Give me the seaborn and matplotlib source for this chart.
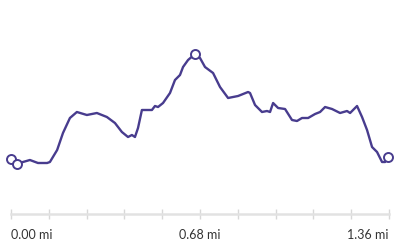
import matplotlib
matplotlib.use("Agg")
import matplotlib.pyplot as plt
import seaborn as sns
import pandas as pd

# distance (miles) and elevation (ft, approximate; y-axis unlabeled)
distance = [0.000, 0.022, 0.043, 0.068, 0.097, 0.130, 0.140, 0.166, 0.187, 0.212,
            0.237, 0.273, 0.309, 0.345, 0.374, 0.399, 0.421, 0.435, 0.446, 0.457,
            0.471, 0.507, 0.518, 0.529, 0.547, 0.572, 0.590, 0.608, 0.619, 0.637,
            0.662, 0.680, 0.698, 0.727, 0.752, 0.781, 0.817, 0.853, 0.860, 0.878,
            0.903, 0.921, 0.932, 0.943, 0.961, 0.986, 1.011, 1.029, 1.047, 1.069,
            1.094, 1.112, 1.130, 1.155, 1.184, 1.209, 1.220, 1.245, 1.263, 1.281,
            1.299, 1.317, 1.335, 1.346, 1.356]
elevation = [627.3, 625.0, 626.0, 627.0, 625.5, 625.5, 626.0, 632.0, 640.5, 648.0,
             651.0, 649.5, 650.5, 648.5, 645.5, 641.0, 638.5, 639.5, 638.5, 643.0,
             652.0, 652.0, 654.0, 653.5, 655.5, 660.5, 667.0, 669.5, 673.5, 677.0,
             680.0, 678.0, 673.5, 670.5, 663.5, 658.0, 659.0, 661.0, 660.5, 654.5,
             651.0, 651.5, 651.0, 655.5, 653.0, 652.5, 647.0, 646.5, 648.0, 648.0,
             650.0, 651.0, 653.5, 652.5, 650.5, 651.5, 650.5, 654.0, 648.5, 642.0,
             633.5, 631.0, 626.0, 626.0, 628.5]
marker_idx = [0, 1, 30, 64]
tick_positions = [0.0, 0.136, 0.272, 0.408, 0.544, 0.68, 0.816, 0.952, 1.088, 1.224, 1.36]
tick_labels = ["0.00 mi", "", "", "", "", "0.68 mi", "", "", "", "", "1.36 mi"]

sns.set_style("white")
plt.rcParams['font.family'] = ['Lato', 'DejaVu Sans']

df = pd.DataFrame({"distance": distance, "elevation": elevation})
mk = df.iloc[marker_idx]

fig = plt.figure(figsize=(4, 2.5), dpi=100)
ax = fig.add_axes([11/400, 36/250, 378/400, 194/250])
color = "#483c8e"
sns.lineplot(data=df, x="distance", y="elevation", ax=ax, color=color,
             linewidth=1.7, solid_joinstyle="round", solid_capstyle="round", zorder=2)
ax.scatter(mk["distance"], mk["elevation"], s=42, facecolor="white",
           edgecolor=color, linewidth=1.4, zorder=3, clip_on=False)

ax.set_xlim(0, 1.36)
ax.set_ylim(600, 697)
ax.set_xlabel("")
ax.set_ylabel("")
ax.set_yticks([])
ax.set_xticks(tick_positions)
ax.set_xticklabels(tick_labels)
for s in ["top", "left", "right"]:
    ax.spines[s].set_visible(False)
ax.spines["bottom"].set_color("#e2e2e2")
ax.spines["bottom"].set_linewidth(1.8)
ax.tick_params(axis="x", direction="inout", length=7, width=1, color="#d8d8d8",
               labelsize=9, labelcolor="#333333", pad=7, bottom=True)
labs = ax.get_xticklabels()
labs[0].set_horizontalalignment("left")
labs[-1].set_horizontalalignment("right")
ax.patch.set_alpha(0)

fig.savefig("out.png", dpi=100)
